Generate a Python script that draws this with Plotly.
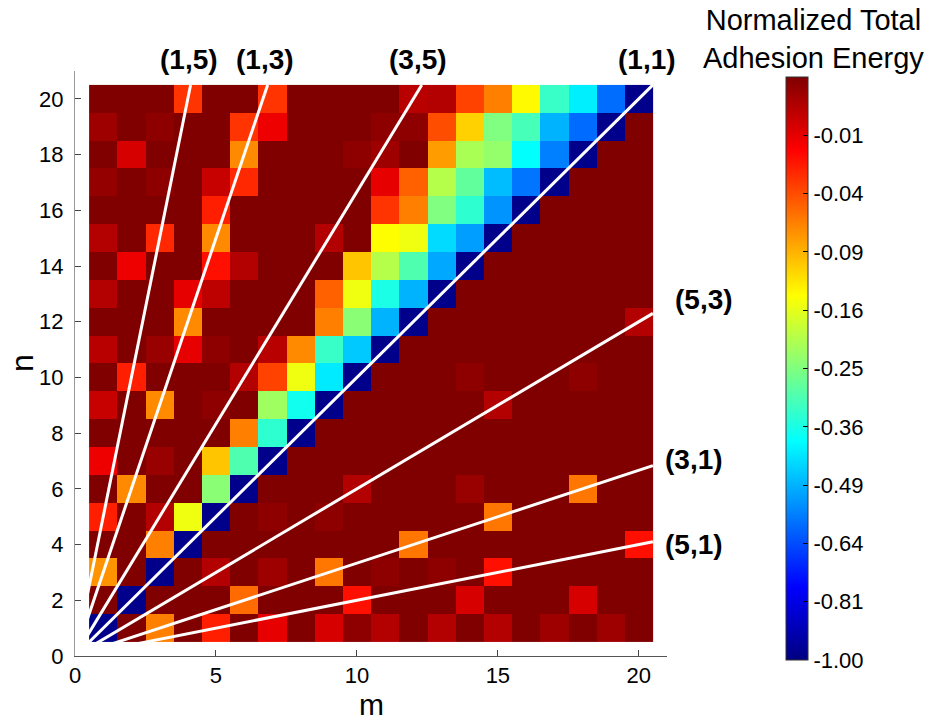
import numpy as np
import plotly.graph_objects as go

# ---------------- data ----------------
m_vals = list(range(1, 21))   # columns (m)
n_vals = list(range(1, 21))   # rows (n)

# Normalized total adhesion energy, energy[n-1][m-1]
energy = [
    # n = 1
    [-0.98, 0, -0.0625, 0, -0.024, 0, -0.01, 0, -0.0072, -0.0002, -0.0025, 0, -0.0025, 0, -0.0025, 0, -0.0009, 0, -0.0009, 0],
    # n = 2
    [0, -0.98, 0, 0, 0, -0.053, 0, 0, 0, -0.0196, 0, 0, 0, -0.0072, 0, 0, 0, -0.0072, 0, 0],
    # n = 3
    [-0.073, 0, -0.98, 0, -0.0025, 0, -0.0009, 0, -0.058, 0, -0.0002, 0, -0.0002, 0, -0.0196, 0, 0, 0, 0, 0],
    # n = 4
    [0, 0, -0.0625, -0.98, 0, 0, 0, 0, 0, 0, 0, -0.058, 0, 0, 0, 0, 0, 0, 0, -0.0196],
    # n = 5
    [-0.024, 0, -0.0025, -0.152, -0.98, 0, -0.0002, 0, -0.0002, 0, 0, 0, 0, 0, -0.058, 0, 0, 0, 0, 0],
    # n = 6
    [0, -0.068, 0, 0, -0.24, -0.98, 0, 0, 0, -0.0025, 0, 0, 0, -0.0006, 0, 0, 0, -0.058, 0, 0],
    # n = 7
    [-0.012, 0, -0.0006, 0, -0.102, -0.30, -0.98, 0, 0, 0, 0, 0, 0, 0, 0, 0, 0, 0, 0, 0],
    # n = 8
    [0, 0, 0, 0, 0, -0.0625, -0.336, -0.98, 0, 0, 0, 0, 0, 0, 0, 0, 0, 0, 0, 0],
    # n = 9
    [-0.0049, 0, -0.068, 0, -0.0002, 0, -0.22, -0.37, -0.98, 0, 0, 0, 0, 0, -0.0025, 0, 0, 0, 0, 0],
    # n = 10
    [0, -0.024, 0, 0, 0, -0.0025, -0.036, -0.152, -0.416, -0.98, 0, 0, 0, -0.0002, 0, 0, 0, -0.0002, 0, 0],
    # n = 11
    [-0.003, 0, -0.0006, -0.01, -0.0002, 0, -0.003, -0.068, -0.325, -0.46, -0.98, 0, 0, 0, 0, 0, 0, 0, 0, 0],
    # n = 12
    [0, 0, 0, -0.068, 0, 0, 0, 0, -0.0625, -0.24, -0.49, -0.98, 0, 0, 0, 0, 0, 0, 0, -0.0025],
    # n = 13
    [-0.0025, 0, 0, -0.01, -0.0036, 0, 0, 0, -0.048, -0.152, -0.36, -0.49, -0.98, 0, 0, 0, 0, 0, 0, 0],
    # n = 14
    [0, -0.012, 0, 0, -0.0196, -0.0025, 0, 0, 0, -0.102, -0.20, -0.30, -0.504, -0.98, 0, 0, 0, 0, 0, 0],
    # n = 15
    [-0.0025, 0, -0.027, 0, -0.068, 0, 0, 0, -0.0025, 0, -0.14, -0.152, -0.436, -0.518, -0.98, 0, 0, 0, 0, 0],
    # n = 16
    [0, 0, 0, 0, -0.024, 0, 0, 0, 0, 0, -0.031, -0.0625, -0.25, -0.336, -0.533, -0.98, 0, 0, 0, 0],
    # n = 17
    [-0.0004, 0, -0.0002, 0, -0.0049, -0.027, 0, 0, 0, 0, -0.01, -0.048, -0.20, -0.28, -0.476, -0.578, -0.98, 0, 0, 0],
    # n = 18
    [0, -0.0072, 0, 0, 0, -0.068, 0, 0, 0, -0.0002, -0.0009, 0, -0.078, -0.21, -0.23, -0.39, -0.5625, -0.98, 0, 0],
    # n = 19
    [-0.0009, 0, -0.0002, 0, 0, -0.031, -0.012, 0, 0, 0, -0.0002, -0.0002, -0.04, -0.109, -0.25, -0.31, -0.49, -0.593, -0.98, 0],
    # n = 20
    [0, 0, 0, -0.031, 0, 0, -0.031, 0, 0, 0, 0, -0.003, -0.0025, -0.036, -0.0625, -0.137, -0.325, -0.41, -0.59, -0.98],
]

# colorbar ticks (square-root scale)
cb_positions = [-1.0, -0.9, -0.8, -0.7, -0.6, -0.5, -0.4, -0.3, -0.2, -0.1]
cb_labels = ["-1.00", "-0.81", "-0.64", "-0.49", "-0.36", "-0.25", "-0.16", "-0.09", "-0.04", "-0.01"]

# ratio lines (m, n) -> n = (n/m) * m
line_pairs = [(1, 5), (1, 3), (3, 5), (1, 1), (5, 3), (3, 1), (5, 1)]
line_labels = ["(1,5)", "(1,3)", "(3,5)", "(1,1)", "(5,3)", "(3,1)", "(5,1)"]
label_x = [4.04, 6.74, 12.15, 20.3, 22.3, 21.95, 21.95]
label_y = [21.4, 21.4, 21.4, 21.4, 12.8, 7.05, 4.0]

x_ticks = [0, 5, 10, 15, 20]
y_ticks = [0, 2, 4, 6, 8, 10, 12, 14, 16, 18, 20]
axis_max = 21

# ---------------- figure ----------------
FONT = "Arial, 'Liberation Sans', sans-serif"
jet = [
    [0.0, "rgb(0,0,128)"],
    [0.125, "rgb(0,0,255)"],
    [0.375, "rgb(0,255,255)"],
    [0.625, "rgb(255,255,0)"],
    [0.875, "rgb(255,0,0)"],
    [1.0, "rgb(128,0,0)"],
]

z_plot = [[-np.sqrt(-e) if e < 0 else 0.0 for e in row] for row in energy]

W, H = 948, 721
L, R, T, B = 75, 281, 71, 65
pw, ph = W - L - R, H - T - B


def px_x(px):
    return (px - L) / pw


def px_y(py):
    return (H - B - py) / ph


fig = go.Figure()
fig.add_trace(go.Heatmap(
    x=m_vals, y=n_vals, z=z_plot, zmin=-1, zmax=0, colorscale=jet,
    colorbar=dict(
        tickmode="array", tickvals=cb_positions, ticktext=cb_labels,
        x=px_x(786), xanchor="left", y=px_y(660), yanchor="bottom",
        len=583, lenmode="pixels", thickness=22, thicknessmode="pixels",
        outlinewidth=1, outlinecolor="#333", ticks="inside", ticklen=5,
        tickcolor="black", xpad=0, ypad=0,
        tickfont=dict(size=22, family=FONT, color="black"),
    ),
    hoverinfo="skip",
))

box = 20.5
for (p, q) in line_pairs:
    k = q / p
    x_end = min(box, box / k)
    fig.add_trace(go.Scatter(
        x=[0, x_end], y=[0, k * x_end], mode="lines",
        line=dict(color="white", width=3), showlegend=False, hoverinfo="skip",
    ))

# labels of the ratio lines (placed in paper coords, converted from data coords)
for txt, lx, ly in zip(line_labels, label_x, label_y):
    fig.add_annotation(x=lx / axis_max, y=ly / axis_max, xref="paper", yref="paper",
                       text="<b>%s</b>" % txt,
                       showarrow=False, xanchor="center", yanchor="middle",
                       font=dict(size=28, family=FONT, color="black"))

# axis titles
fig.add_annotation(x=px_x(371), y=px_y(704), xref="paper", yref="paper", text="m",
                   showarrow=False, xanchor="center", yanchor="middle",
                   font=dict(size=30, family=FONT, color="black"))
fig.add_annotation(x=px_x(22), y=px_y(363), xref="paper", yref="paper", text="n",
                   showarrow=False, xanchor="center", yanchor="middle", textangle=-90,
                   font=dict(size=32, family=FONT, color="black"))

# colorbar title (two lines in one text)
fig.add_annotation(x=px_x(813), y=px_y(39), xref="paper", yref="paper",
                   text="Normalized Total<br>Adhesion Energy",
                   showarrow=False, xanchor="center", yanchor="middle", align="center",
                   font=dict(size=29, family=FONT, color="black"))

axis_common = dict(showgrid=False, zeroline=False, showline=True, ticks="inside",
                   ticklen=6, tickcolor="#444", tickfont=dict(size=22, family=FONT, color="black"),
                   range=[0, axis_max], fixedrange=True)
fig.update_xaxes(tickvals=x_ticks, linecolor="#555", **axis_common)
fig.update_yaxes(tickvals=y_ticks, linecolor="#999", ticklabelstandoff=6, **axis_common)

fig.update_layout(
    width=W, height=H, margin=dict(l=L, r=R, t=T, b=B),
    paper_bgcolor="white", plot_bgcolor="white", showlegend=False,
    font=dict(family=FONT, color="black"),
)

fig.write_html("out.html")
